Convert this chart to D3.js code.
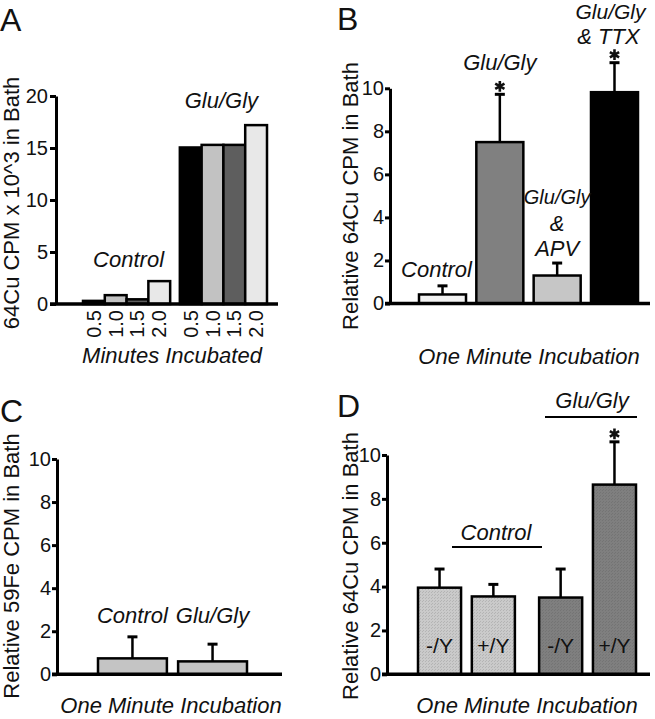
<!DOCTYPE html>
<html><head><meta charset="utf-8">
<script src="https://cdn.jsdelivr.net/npm/d3@7"></script>
<style>
body{margin:0;background:#fff}
text{font-family:"Liberation Sans",Arial,Helvetica,sans-serif;fill:#111}
</style>
</head><body>
<svg id="chart" width="655" height="719"></svg>
<script>
// ---------------- DATA ----------------
const aMinutes = ["0.5","1.0","1.5","2.0"];
const aGroups = ["Control","Glu/Gly"];
const aControl = [0.3,0.85,0.45,2.2];
const aGluGly = [15.05,15.3,15.3,17.2];
const aTicks = [0,5,10,15,20];

const bCategories = ["Control","Glu/Gly","Glu/Gly & APV","Glu/Gly & TTX"];
const bMeans = [0.42,7.5,1.3,9.82];
const bErrors = [0.4,2.22,0.58,1.37];
const bSignificant = [false,true,false,true];

const cCategories = ["Control","Glu/Gly"];
const cMeans = [0.74,0.6];
const cErrors = [1.0,0.8];

const dGroups = ["Control","Glu/Gly"];
const dGenotypes = ["-/Y","+/Y"];
const dMeans = [[3.95,3.55],[3.5,8.65]];
const dErrors = [[0.85,0.55],[1.3,1.95]];
const dSignificant = [[false,false],[false,true]];

const relTicks = [0,2,4,6,8,10];

// ---------------- STYLE ----------------
const aColors = ["#000000","#c2c2c2","#5e5e5e","#e8e8e8"];
const bColors = ["#f2f2f2","#808080","#c6c6c6","#000000"];
const cColor = "#c4c4c4";
const FONT = '"Liberation Sans",Arial,Helvetica,sans-serif';

const svg = d3.select("#chart");
const defs = svg.append("defs");
function stipple(id, base, dot){
  const p = defs.append("pattern").attr("id",id).attr("patternUnits","userSpaceOnUse").attr("width",3).attr("height",3);
  p.append("rect").attr("width",3).attr("height",3).attr("fill",base);
  p.append("rect").attr("x",0).attr("y",0).attr("width",1).attr("height",1).attr("fill",dot);
  p.append("rect").attr("x",2).attr("y",1).attr("width",1).attr("height",1).attr("fill",dot);
}
stipple("stipLight","#cacaca","#b4b4b4");
stipple("stipDark","#7f7f7f","#747474");

function yAxis(y, x, ticks, size, pad, xEnd){
  const g = svg.append("g").attr("transform",`translate(${x},0)`)
    .call(d3.axisLeft(y).tickValues(ticks).tickSize(size).tickSizeOuter(0).tickPadding(pad));
  g.select(".domain").attr("stroke","#000").attr("stroke-width",3);
  g.selectAll(".tick line").attr("stroke","#000").attr("stroke-width",3);
  g.selectAll(".tick text").attr("font-size",20).attr("font-family",FONT).attr("fill","#111");
  svg.append("line").attr("x1",x-size).attr("x2",xEnd).attr("y1",y(0)).attr("y2",y(0))
    .attr("stroke","#000").attr("stroke-width",3.5);
}
function label(x,y,txt,opts={}){
  const t = svg.append("text").attr("x",x).attr("y",y).text(txt)
    .attr("font-size",opts.size||22).attr("text-anchor",opts.anchor||"middle");
  if(opts.italic!==false) t.attr("font-style","italic");
  if(opts.rotate) t.attr("transform",`rotate(-90,${x},${y})`);
  return t;
}
function errBar(cx, y, mean, err, capHalf){
  svg.append("line").attr("x1",cx).attr("x2",cx).attr("y1",y(mean)).attr("y2",y(mean+err))
    .attr("stroke","#000").attr("stroke-width",2.5);
  svg.append("line").attr("x1",cx-capHalf).attr("x2",cx+capHalf).attr("y1",y(mean+err)).attr("y2",y(mean+err))
    .attr("stroke","#000").attr("stroke-width",3);
}
const starPath = d3.symbol(d3.symbolAsterisk, 80)();
function star(cx, capY){
  svg.append("path").attr("d",starPath).attr("transform",`translate(${cx},${capY-8})`)
    .attr("fill","none").attr("stroke","#111").attr("stroke-width",2.6);
}
function panelLetter(x,y,l){
  svg.append("text").attr("x",x).attr("y",y).attr("font-size",32).text(l);
}

// ================= PANEL A =================
{
  const y = d3.scaleLinear().domain([0,20]).range([304,96]);
  const xg = d3.scaleBand().domain(aGroups).range([83,267]).paddingInner(0.1).paddingOuter(0);
  const xi = d3.scaleBand().domain(aMinutes).range([0,xg.bandwidth()]).padding(0);
  const series = [aControl, aGluGly];
  aGroups.forEach((grp,gi)=>{
    svg.append("g").selectAll("rect").data(series[gi]).join("rect")
      .attr("x",(d,i)=>xg(grp)+xi(aMinutes[i]))
      .attr("width",xi.bandwidth())
      .attr("y",d=>y(d)).attr("height",d=>y(0)-y(d))
      .attr("fill",(d,i)=>aColors[i]).attr("stroke","#000").attr("stroke-width",2.5);
    aMinutes.forEach((m,i)=>{
      const cx = xg(grp)+xi(m)+xi.bandwidth()/2;
      svg.append("text").attr("transform",`translate(${cx+7},310) rotate(-90)`)
        .attr("text-anchor","end").attr("font-size",20).text(m);
    });
  });
  yAxis(y,56,aTicks,6,2,278);
  panelLetter(0,31,"A");
  label(xg("Control")+xg.bandwidth()/2+2,267,"Control");
  label(xg("Glu/Gly")+xg.bandwidth()/2-2,108,"Glu/Gly");
  label(172,363,"Minutes Incubated");
  label(19,203,"64Cu CPM x 10^3 in Bath",{italic:false,rotate:true});
}

// ================= PANEL B =================
{
  const y = d3.scaleLinear().domain([0,10]).range([303.5,88.3]);
  const x = d3.scaleBand().domain(bCategories).range([419,638]).paddingInner(0.18).paddingOuter(0);
  bCategories.forEach((c,i)=>errBar(x(c)+x.bandwidth()/2,y,bMeans[i],bErrors[i],5));
  svg.append("g").selectAll("rect").data(bMeans).join("rect")
    .attr("x",(d,i)=>x(bCategories[i])).attr("width",x.bandwidth())
    .attr("y",d=>y(d)).attr("height",d=>y(0)-y(d))
    .attr("fill",(d,i)=>bColors[i]).attr("stroke","#000").attr("stroke-width",2.5);
  bCategories.forEach((c,i)=>{ if(bSignificant[i]) star(x(c)+x.bandwidth()/2, y(bMeans[i]+bErrors[i])); });
  yAxis(y,390,relTicks,5,1,650);
  panelLetter(337,30,"B");
  const cx = i=>x(bCategories[i])+x.bandwidth()/2;
  label(cx(0)-6,277,"Control");
  label(cx(1),70,"Glu/Gly");
  label(cx(2),204,"Glu/Gly",{size:20});
  label(cx(2),231,"&");
  label(cx(2),256,"APV");
  label(cx(3)-4,19,"Glu/Gly",{size:21});
  label(cx(3)-6,44,"& TTX");
  label(529,364,"One Minute Incubation");
  label(358,196,"Relative 64Cu CPM in Bath",{italic:false,rotate:true});
}

// ================= PANEL C =================
{
  const y = d3.scaleLinear().domain([0,10]).range([674.3,459]);
  const x = d3.scaleBand().domain(cCategories).range([98,247]).paddingInner(0.14).paddingOuter(0);
  cCategories.forEach((c,i)=>errBar(x(c)+x.bandwidth()/2,y,cMeans[i],cErrors[i],5));
  svg.append("g").selectAll("rect").data(cMeans).join("rect")
    .attr("x",(d,i)=>x(cCategories[i])).attr("width",x.bandwidth())
    .attr("y",d=>y(d)).attr("height",d=>y(0)-y(d))
    .attr("fill",cColor).attr("stroke","#000").attr("stroke-width",2.5);
  yAxis(y,57,relTicks,5,1,282);
  panelLetter(0,422,"C");
  cCategories.forEach(c=>label(x(c)+x.bandwidth()/2,623,c));
  label(171,713,"One Minute Incubation");
  label(19,566,"Relative 59Fe CPM in Bath",{italic:false,rotate:true});
}

// ================= PANEL D =================
{
  const y = d3.scaleLinear().domain([0,10]).range([674.3,455]);
  const xg = d3.scaleBand().domain(dGroups).range([418,636]).paddingInner(0.2).paddingOuter(0);
  const xi = d3.scaleBand().domain(dGenotypes).range([0,xg.bandwidth()]).paddingInner(0.2).paddingOuter(0);
  const fills = ["url(#stipLight)","url(#stipDark)"];
  dGroups.forEach((grp,gi)=>{
    dGenotypes.forEach((gen,i)=>errBar(xg(grp)+xi(gen)+xi.bandwidth()/2,y,dMeans[gi][i],dErrors[gi][i],5));
    svg.append("g").selectAll("rect").data(dMeans[gi]).join("rect")
      .attr("x",(d,i)=>xg(grp)+xi(dGenotypes[i])).attr("width",xi.bandwidth())
      .attr("y",d=>y(d)).attr("height",d=>y(0)-y(d))
      .attr("fill",fills[gi]).attr("stroke","#000").attr("stroke-width",2.5);
    dGenotypes.forEach((gen,i)=>{
      const cx = xg(grp)+xi(gen)+xi.bandwidth()/2;
      label(cx,653,gen,{italic:false,size:21});
      if(dSignificant[gi][i]) star(cx, y(dMeans[gi][i]+dErrors[gi][i]));
    });
  });
  yAxis(y,387,relTicks,5,1,650);
  panelLetter(337,417,"D");
  label(496,540,"Control");
  svg.append("line").attr("x1",452).attr("x2",542).attr("y1",547).attr("y2",547).attr("stroke","#000").attr("stroke-width",2);
  label(592,408,"Glu/Gly");
  svg.append("line").attr("x1",545).attr("x2",637).attr("y1",417).attr("y2",417).attr("stroke","#000").attr("stroke-width",2);
  label(527,713,"One Minute Incubation");
  label(358,566,"Relative 64Cu CPM in Bath",{italic:false,rotate:true});
}
</script>
</body></html>
